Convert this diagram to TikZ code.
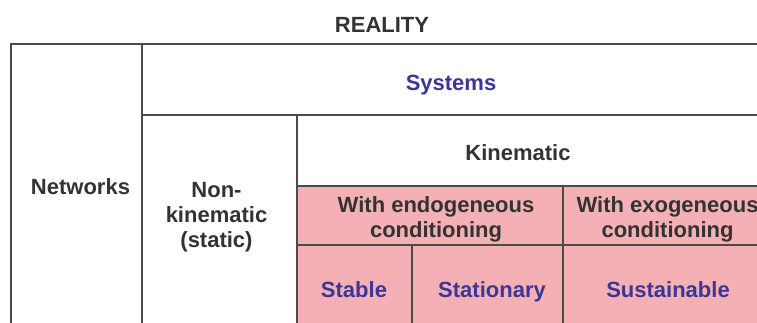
\documentclass[tikz,border=0pt]{standalone}
\usepackage{fontspec}
\setmainfont{Liberation Sans}
\usepackage{tikz}
\usetikzlibrary{positioning}
\definecolor{cellpink}{RGB}{244,176,180}
\definecolor{labelblue}{RGB}{60,55,150}
\definecolor{labelgray}{RGB}{51,51,51}
\definecolor{rulegray}{RGB}{75,75,75}
\tikzset{
    %Define style for grid lines
    rule/.style={
           draw=rulegray,
           line width=1.6pt},
    %Define style for shaded cells
    pinkcell/.style={
           fill=cellpink},
    %Define style for heading labels
    head/.style={
           font=\bfseries\fontsize{22}{25}\selectfont,
           text=labelgray,
           align=center,
           inner sep=0pt},
    %Define style for leaf labels
    leaf/.style={
           head,
           text=labelblue}
}

\begin{document}
\begin{tikzpicture}[x=1pt,y=-1pt]
\useasboundingbox (0,0) rectangle (757,322);
\clip (0,0) rectangle (757,322);
\fill[white] (0,0) rectangle (757,322);
% shaded part of the table
\fill[pinkcell] (297,186) rectangle (780,340);
% grid
\draw[rule] (780,44) -- (11,44) -- (11,340);
\draw[rule] (142,44) -- (142,340);
\draw[rule] (142,115) -- (780,115);
\draw[rule] (297,115) -- (297,340);
\draw[rule] (297,186) -- (780,186);
\draw[rule] (297,245) -- (780,245);
\draw[rule] (563,186) -- (563,340);
\draw[rule] (412,245) -- (412,340);
% labels
\node[head] (reality) at (382,25) {REALITY};
\node[leaf] (systems) at (451,85) {Systems};
\node[head] (networks) at (80.5,186.5) {Networks};
\node[head] (nonkin) at (216.5,217) {Non-\\kinematic\\(static)};
\node[head] (kinematic) at (518,152.5) {Kinematic};
\node[head] (endo) at (436,219.5) {With endogeneous\\conditioning};
\node[head] (exo) at (667.5,219.5) {With exogeneous\\conditioning};
\node[leaf, anchor=base] (stable) at (354,297.5) {Stable};
\node[leaf, anchor=base] (stationary) at (492,297.5) {Stationary};
\node[leaf, anchor=base] (sustainable) at (668,297) {Sustainable};
\end{tikzpicture}
\end{document}
